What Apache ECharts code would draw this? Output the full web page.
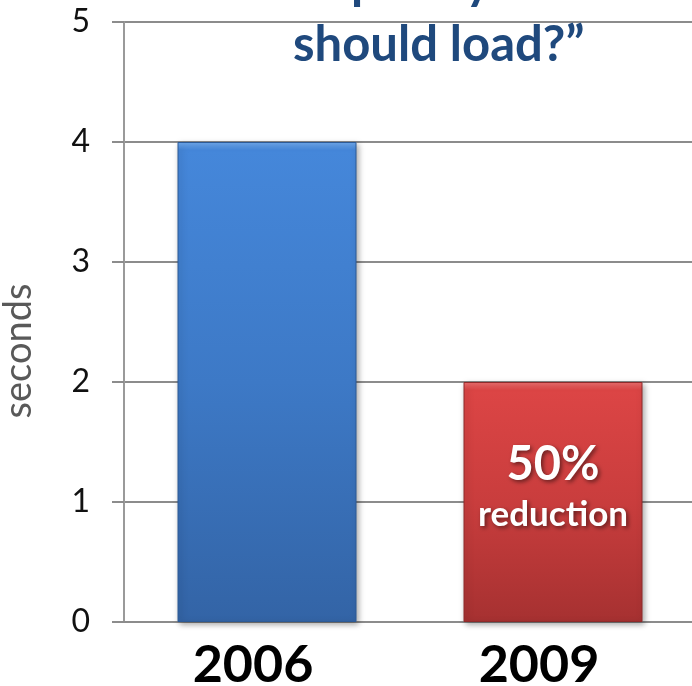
<!DOCTYPE html>
<html>
<head>
<meta charset="utf-8">
<script src="https://cdn.jsdelivr.net/npm/echarts@6/dist/echarts.min.js"></script>
<style>
html,body{margin:0;padding:0;background:#fff;}
#c{width:692px;height:686px;}
</style>
</head>
<body>
<div id="c"></div>
<script>
var categories = ['2006', '2009'];
var seconds = [4, 2];
var yTicks = [0, 1, 2, 3, 4, 5];
var titleLine1 = '“How quickly';
var titleLine2 = 'should load?”';
var barLabel = ['50%', 'reduction'];

var FONT = 'Lato, "Open Sans", sans-serif';
var chart = echarts.init(document.getElementById('c'));

function grad(v, edge, top, mid, bottom) {
  var e = 8 / (v * 120);
  return new echarts.graphic.LinearGradient(0, 0, 0, 1, [
    {offset: 0, color: edge}, {offset: e, color: top},
    {offset: 0.5, color: mid}, {offset: 1, color: bottom}
  ]);
}
var palettes = [['#72acf0', '#4587da', '#3d79c6', '#3364a6'], ['#ef7070', '#dc4545', '#c93d3d', '#a63131']];
var borders = ['#2c5a96', '#8e2a2a'];

chart.setOption({
  animation: false,
  title: [
    {text: titleLine1, right: 196, top: -46,
     textStyle: {fontFamily: FONT, fontWeight: 'bold', fontSize: 49, color: '#1f497d'}},
    {text: titleLine2, left: 288, top: 16,
     textStyle: {fontFamily: FONT, fontWeight: 'bold', fontSize: 49, color: '#1f497d'}}
  ],
  grid: {left: 124, top: 22, width: 572, bottom: 64, containLabel: false, outerBoundsMode: 'none'},
  xAxis: {
    type: 'category', data: categories,
    axisLine: {lineStyle: {color: '#8c8c8c', width: 2}},
    axisTick: {show: false},
    axisLabel: {fontFamily: FONT, fontWeight: 'bold', fontSize: 52, color: '#000', margin: 17,
                padding: [0, 28, 0, 0]}
  },
  yAxis: {
    type: 'value', min: yTicks[0], max: yTicks[yTicks.length - 1], interval: 1,
    name: 'seconds', nameLocation: 'middle', nameRotate: 90, nameGap: 86,
    nameTextStyle: {fontFamily: FONT, fontSize: 38, color: '#595959', padding: [0, 58, 0, 0]},
    axisLine: {show: true, lineStyle: {color: '#9a9a9a', width: 2}},
    axisTick: {show: true, inside: false, length: 12, lineStyle: {color: '#8c8c8c', width: 2}},
    axisLabel: {fontFamily: FONT, fontSize: 32, color: '#111', margin: 34},
    splitLine: {lineStyle: {color: '#8c8c8c', width: 2}}
  },
  series: [{
    type: 'bar', barWidth: 179,
    data: seconds.map(function (v, i) {
      var p = palettes[i];
      var d = {value: v, itemStyle: {color: grad(v, p[0], p[1], p[2], p[3]), borderColor: borders[i], borderWidth: 1,
        shadowColor: 'rgba(0,0,0,0.35)', shadowBlur: 6, shadowOffsetX: 2, shadowOffsetY: 2}};
      if (i === 1) {
        d.label = {
          show: true, position: 'inside', offset: [0, -14],
          formatter: '{a|' + barLabel[0] + '}\n{b|' + barLabel[1] + '}',
          rich: {
            a: {fontFamily: FONT, fontWeight: 'bold', fontSize: 47, color: '#fff', lineHeight: 54,
                textShadowColor: 'rgba(0,0,0,0.5)', textShadowBlur: 4, textShadowOffsetX: 2, textShadowOffsetY: 2},
            b: {fontFamily: FONT, fontWeight: 'bold', fontSize: 35, color: '#fff', lineHeight: 46,
                textShadowColor: 'rgba(0,0,0,0.5)', textShadowBlur: 4, textShadowOffsetX: 2, textShadowOffsetY: 2}
          }
        };
      }
      return d;
    })
  }]
});
</script>
</body>
</html>
